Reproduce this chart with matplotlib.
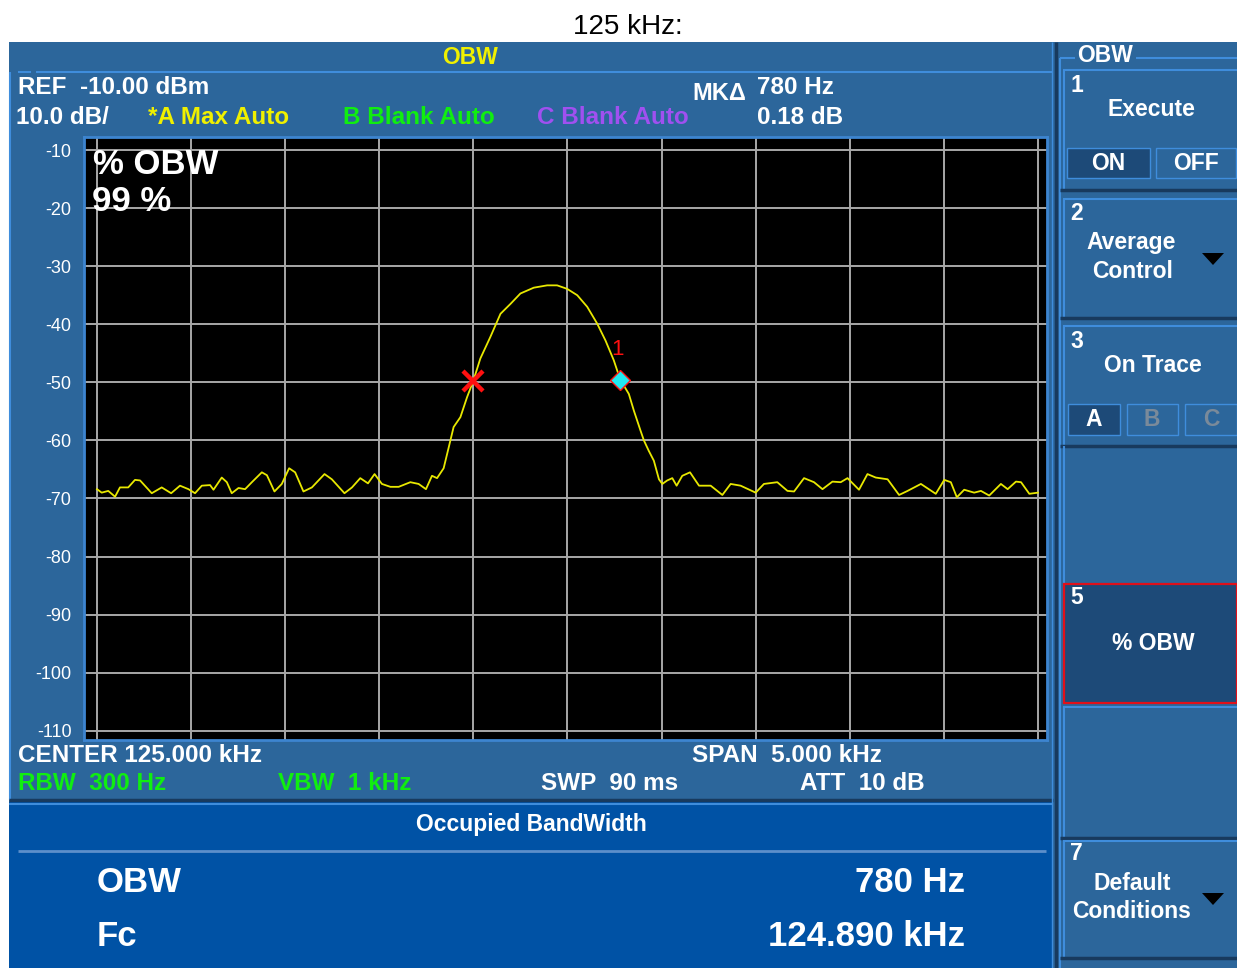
import matplotlib
matplotlib.use('Agg')
import matplotlib.pyplot as plt
from matplotlib.patches import Rectangle, Polygon

# ---------------- data ----------------
freq_khz = [122.500, 122.525, 122.560, 122.596, 122.622, 122.666, 122.702, 122.729, 122.791, 122.844,
            122.894, 122.941, 122.986, 123.021, 123.057, 123.101, 123.119, 123.163, 123.190, 123.216,
            123.252, 123.287, 123.323, 123.376, 123.403, 123.443, 123.482, 123.521, 123.553, 123.597,
            123.642, 123.709, 123.748, 123.815, 123.855, 123.899, 123.940, 123.975, 124.014, 124.059,
            124.103, 124.165, 124.209, 124.248, 124.280, 124.307, 124.342, 124.369, 124.395, 124.431,
            124.466, 124.500, 124.537, 124.590, 124.644, 124.697, 124.750, 124.821, 124.892, 124.945,
            124.998, 125.052, 125.105, 125.158, 125.202, 125.246, 125.280, 125.326, 125.353, 125.388,
            125.406, 125.432, 125.459, 125.486, 125.504, 125.530, 125.557, 125.580, 125.610, 125.651,
            125.699, 125.761, 125.823, 125.867, 125.920, 126.000, 126.044, 126.115, 126.169, 126.204,
            126.257, 126.310, 126.355, 126.408, 126.452, 126.488, 126.549, 126.594, 126.638, 126.701,
            126.762, 126.807, 126.878, 126.957, 127.002, 127.037, 127.069, 127.108, 127.161, 127.197,
            127.241, 127.303, 127.339, 127.383, 127.410, 127.454, 127.500]
level_dbm = [-68.4, -69.0, -68.7, -69.7, -68.1, -68.1, -66.8, -66.9, -69.1, -68.1,
             -69.1, -67.8, -68.4, -69.1, -67.8, -67.7, -68.5, -66.4, -67.2, -69.1,
             -68.2, -68.4, -67.2, -65.5, -66.0, -68.8, -67.5, -64.8, -65.5, -68.8,
             -68.1, -65.8, -66.7, -69.1, -68.1, -66.5, -67.4, -65.8, -67.5, -68.0,
             -68.0, -67.2, -67.5, -68.4, -66.1, -66.5, -64.8, -61.2, -57.7, -56.0,
             -52.6, -49.7, -45.9, -42.2, -38.2, -36.5, -34.7, -33.7, -33.3, -33.3,
             -33.9, -35.0, -37.0, -39.9, -42.8, -46.2, -49.5, -52.0, -54.9, -58.3,
             -60.0, -61.8, -63.5, -66.7, -67.5, -66.9, -66.5, -67.8, -66.1, -65.5,
             -67.8, -67.8, -69.4, -67.5, -67.8, -69.0, -67.5, -67.2, -68.7, -68.8,
             -66.5, -67.2, -68.4, -67.1, -67.2, -66.5, -68.5, -65.8, -66.4, -66.7,
             -69.4, -68.7, -67.5, -69.2, -66.8, -67.2, -69.8, -68.5, -69.0, -68.7,
             -69.5, -67.5, -68.4, -67.1, -67.2, -69.2, -69.0]

marker_ref_khz, marker_ref_dbm = 124.500, -49.70
marker_delta_khz, marker_delta_dbm = 125.280, -49.52

x_grid_khz = [122.5, 123.0, 123.5, 124.0, 124.5, 125.0, 125.5, 126.0, 126.5, 127.0, 127.5]
y_grid_dbm = [-10, -20, -30, -40, -50, -60, -70, -80, -90, -100, -110]
y_tick_labels = ['-10', '-20', '-30', '-40', '-50', '-60', '-70', '-80', '-90', '-100', '-110']

# ---------------- style ----------------
W, H = 1237, 968
BLUE = '#2c669b'
BRIGHT = '#0052a5'
LIGHT = '#3f8ddc'
DARK = '#183a5e'
BTN = '#1d4a78'
FONT = 'Liberation Sans'
MS = 16.5

fig = plt.figure(figsize=(W / 100, H / 100), dpi=100)
fig.patch.set_facecolor('white')

bg = fig.add_axes([0, 0, 1, 1])
bg.set_xlim(0, W)
bg.set_ylim(H, 0)
bg.axis('off')


def rect(x0, y0, x1, y1, fc, ec='none', lw=0.0, z=1):
    bg.add_patch(Rectangle((x0, y0), x1 - x0, y1 - y0, facecolor=fc, edgecolor=ec, linewidth=lw, zorder=z))


def hline(y, x0, x1, c, lw=1.5, z=2):
    bg.plot([x0, x1], [y, y], color=c, lw=lw, solid_capstyle='butt', zorder=z)


def vline(x, y0, y1, c, lw=1.5, z=2):
    bg.plot([x, x], [y0, y1], color=c, lw=lw, solid_capstyle='butt', zorder=z)


def txt(x, y, s, color='white', size=MS, weight='bold', ha='left', va='center', **kw):
    bg.text(x, y, s, color=color, fontsize=size, fontweight=weight, ha=ha, va=va,
            family=[FONT, 'DejaVu Sans'], zorder=5, **kw)


# title
txt(628, 27, '125 kHz:', color='black', size=20, weight='normal', ha='center')

# main screen
rect(9, 42, W, H, BLUE)
hline(72, 18, 31, LIGHT)
hline(72, 36, 1052, LIGHT)
vline(10, 72, 800, LIGHT)
# bottom panel
hline(800, 9, 1053, DARK, 2.5)
rect(9, 802, 1053, H, BRIGHT)
hline(803.5, 9, 1053, LIGHT, 1.5)
hline(851, 18, 1046, '#5d8fcb', 2)

# right panel separators
vline(1052, 42, H, LIGHT, 1.0)
vline(1055.5, 42, H, DARK, 2.5)
vline(1059.5, 58, H, LIGHT, 1.5)
hline(58, 1059.5, 1075, LIGHT)
hline(58, 1136, W, LIGHT)
txt(1105, 55, 'OBW', ha='center')


def button(y0, y1):
    hline(y0, 1063, W, LIGHT)
    vline(1063.5, y0, y1, LIGHT)
    hline(y1, 1060, W, DARK, 2.5)


for (a, b) in [(70, 190), (199, 318), (326, 446), (707, 838), (841, 958)]:
    button(a, b)
vline(1063.5, 446, 584, LIGHT)
rect(1064, 584, W, 703, BTN, ec='#e0101a', lw=1.6, z=3)

# sub buttons
rect(1067, 148, 1150, 178, BTN, ec=LIGHT, lw=1.0, z=3)
rect(1156, 148, 1236, 178, BLUE, ec=LIGHT, lw=1.0, z=3)
rect(1068, 404, 1120, 435, BTN, ec=LIGHT, lw=1.0, z=3)
rect(1127, 404, 1178, 435, BLUE, ec=LIGHT, lw=1.0, z=3)
rect(1185, 404, 1237, 435, BLUE, ec=LIGHT, lw=1.0, z=3)

# triangles
for ty in (259, 899):
    bg.add_patch(Polygon([[1202, ty - 6], [1224, ty - 6], [1213, ty + 6]], closed=True,
                         facecolor='black', edgecolor='none', zorder=5))

# right panel texts
txt(1070, 86, '1')
txt(1151, 110, 'Execute', ha='center')
txt(1108, 163, 'ON', ha='center')
txt(1196, 163, 'OFF', ha='center')
txt(1070, 214, '2')
txt(1131, 243, 'Average', ha='center')
txt(1133, 272, 'Control', ha='center')
txt(1070, 342, '3')
txt(1153, 366, 'On Trace', ha='center')
txt(1094, 420, 'A', ha='center')
txt(1152, 420, 'B', ha='center', color='#7a8a9a')
txt(1211, 420, 'C', ha='center', color='#7a8a9a')
txt(1070, 598, '5')
txt(1153, 643, '% OBW', ha='center')
txt(1070, 853, '7')
txt(1132, 883, 'Default', ha='center')
txt(1132, 912, 'Conditions', ha='center')

# header texts
txt(470, 57, 'OBW', color='#f0f000', ha='center')
txt(18, 88, 'REF  -10.00 dBm', size=17.5)
txt(16, 117, '10.0 dB/', size=17.5)
txt(148, 117, '*A Max Auto', color='#f0f000', size=17.5)
txt(343, 117, 'B Blank Auto', color='#10ee10', size=17.5)
txt(537, 117, 'C Blank Auto', color='#a050f0', size=17.5)
txt(692, 93, 'MK\u0394', size=17)
txt(757, 88, '780 Hz', size=17.5)
txt(757, 117, '0.18 dB', size=17.5)

# footer texts
txt(18, 755, 'CENTER 125.000 kHz', size=17.5)
txt(692, 755, 'SPAN  5.000 kHz', size=17.5)
txt(18, 784, 'RBW  300 Hz', color='#10ee10', size=17.5)
txt(278, 784, 'VBW  1 kHz', color='#10ee10', size=17.5)
txt(541, 784, 'SWP  90 ms', size=17.5)
txt(800, 784, 'ATT  10 dB', size=17.5)
txt(531, 825, 'Occupied BandWidth', ha='center')
txt(97, 882, 'OBW', size=25)
txt(965, 882, '780 Hz', size=25, ha='right')
txt(97, 937, 'Fc', size=25)
txt(965, 937, '124.890 kHz', size=25, ha='right')

# ---------------- plot area ----------------
left_px, right_px, top_px, bot_px = 84, 1047, 137, 740
ax = fig.add_axes([left_px / W, 1 - bot_px / H, (right_px - left_px) / W, (bot_px - top_px) / H])
ax.set_facecolor('black')
ax.set_xlim(122.431, 127.548)
ax.set_ylim(-111.6, -7.75)
ax.set_xticks(x_grid_khz)
ax.set_yticks(y_grid_dbm)
ax.set_yticklabels(y_tick_labels)
ax.tick_params(axis='x', length=0, labelbottom=False)
ax.tick_params(axis='y', length=0, colors='white', labelsize=13, pad=9)
for lab in ax.get_yticklabels():
    lab.set_family(FONT)
ax.grid(True, color='#a8a8a8', lw=1.4)
ax.set_axisbelow(True)
for sp in ax.spines.values():
    sp.set_color('#3d85d0')
    sp.set_linewidth(2)

ax.plot(freq_khz, level_dbm, color='#e8e800', lw=1.3, zorder=3)
ax.plot(marker_ref_khz, marker_ref_dbm, marker='x', color='#ff1010', ms=14, mew=3.2, zorder=4)
ax.plot(marker_delta_khz, marker_delta_dbm, marker='D', ms=10, mfc='#20e8f0', mec='#ff1010', mew=1,
        zorder=5)
ax.annotate('1', (marker_delta_khz, marker_delta_dbm), xytext=(-3, 30), textcoords='offset pixels',
            color='#ff1010', fontsize=16, ha='center', va='center', family=FONT)
ax.text(0.009, 0.955, '% OBW', transform=ax.transAxes, color='white', fontsize=25, fontweight='bold',
        family=FONT, va='center', ha='left')
ax.text(0.008, 0.893, '99 %', transform=ax.transAxes, color='white', fontsize=25, fontweight='bold',
        family=FONT, va='center', ha='left')

fig.savefig('out.png', dpi=100)
